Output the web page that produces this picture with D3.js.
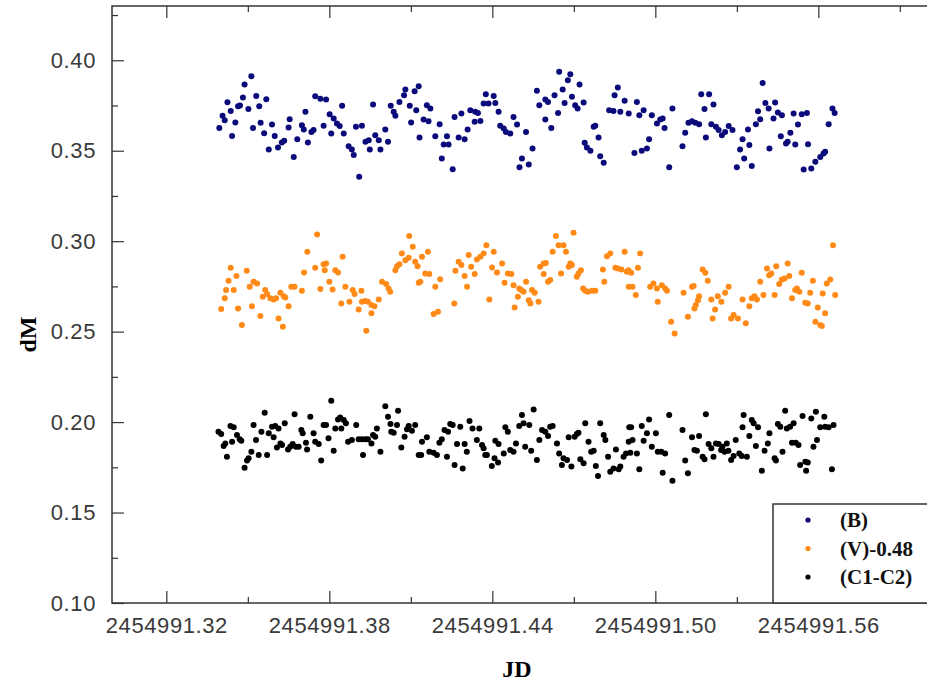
<!DOCTYPE html>
<html>
<head>
<meta charset="utf-8">
<script src="https://cdn.jsdelivr.net/npm/d3@7"></script>
<style>
    body { margin: 0; background: #fff; }
    .tick text { font-family: "Liberation Sans", Arial, sans-serif; font-size: 22px; fill: #3a3a3a; letter-spacing: 0.6px; }
    .tick line { stroke: #333; }
</style>
</head>
<body>
<div id="graph"></div>
<script>
const JD0 = 2454991;

// (B)
const bJD = [.3395,.3407,.3415,.3425,.3437,.3442,.3454,.3464,.3471,.3482,.3488,.3502,.3513,.3519,.3531,.3542,.3547,.3560,.3568,.3577,.3589,.3599,.3611,.3625,.3634,.3650,.3654,.3669,.3682,.3699,.3706,.3712,.3721,.3734,.3742,.3748,.3767,.3788,.3779,.3801,.3816,.3828,.3838,.3807,.3847,.3853,.3871,.3883,.3890,.3898,.3920,.3910,.3933,.3945,.3949,.3961,.3969,.3982,.3988,.4006,.4016,.4026,.4037,.4043,.4058,.4075,.4080,.4096,.4114,.4129,.4120,.4101,.4132,
    .4159,.4172,.4147,.4165,.4206,.4190,.4233,.4221,.4239,.4214,.4254,.4261,.4286,.4276,.4298,.4309,.4319,.4337,.4347,.4335,.4356,.4376,.4405,.4368,.4386,.4411,.4423,.4429,.4442,.4450,.4466,.4478,.4491,.4524,.4509,.4500,.4534,.4548,.4564,.4573,.4595,.4605,.4595,.4617,.4629,.4642,.4646,.4659,.4666,.4678,.4687,.4693,.4705,.4714,.4721,.4736,.4740,.4748,.4761,.4773,.4779,.4791,.4797,.4810,.4830,.4846,.4862,.4850,.4871,.4887,.4902,
    .4932,.4941,.4957,.4923,.4950,.4969,.4977,.4987,.5006,.5018,.5027,.5034,.5051,.5063,.5100,.5110,.5122,.5135,.5147,.5161,.5169,.5198,.5181,.5214,.5186,.5206,.5223,.5233,.5245,.5257,.5270,.5284,.5300,.5312,.5321,.5327,.5346,.5355,.5341,.5370,.5378,.5386,.5395,.5405,.5417,.5441,.5435,.5451,.5466,.5462,.5481,.5497,.5487,.5515,.5509,.5525,.5539,.5558,.5562,.5546,.5574,.5589,.5607,.5619,.5625,.5638,.5652,.5660,.5420];
const bDM = [.3626,.3693,.3669,.3768,.3720,.3582,.3656,.3746,.3750,.3794,.3866,.3730,.3912,.3626,.3803,.3746,.3654,.3597,.3785,.3507,.3645,.3582,.3518,.3546,.3555,.3628,.3674,.3466,.3564,.3641,.3617,.3715,.3546,.3604,.3614,.3801,.3788,.3783,.3638,.3702,.3678,.3650,.3636,.3595,.3748,.3595,.3525,.3507,.3476,.3632,.3638,.3356,.3549,.3558,.3507,.3755,.3586,.3558,.3507,.3617,.3549,.3748,.3715,.3693,.3770,.3807,.3838,.3748,.3829,.3856,.3724,.3656,.3573,
    .3752,.3733,.3672,.3663,.3647,.3580,.3580,.3534,.3534,.3457,.3398,.3687,.3706,.3573,.3564,.3617,.3724,.3715,.3709,.3660,.3665,.3812,.3803,.3761,.3761,.3764,.3715,.3638,.3623,.3604,.3595,.3687,.3645,.3604,.3457,.3408,.3424,.3512,.3831,.3752,.3783,.3770,.3672,.3626,.3807,.3709,.3936,.3838,.3764,.3890,.3923,.3798,.3752,.3733,.3866,.3766,.3544,.3518,.3500,.3632,.3638,.3573,.3470,.3433,.3724,.3720,.3849,.3807,.3715,.3776,.3706,
    .3770,.3696,.3724,.3488,.3500,.3512,.3564,.3696,.3650,.3672,.3678,.3626,.3408,.3733,.3525,.3599,.3654,.3663,.3654,.3647,.3812,.3812,.3730,.3755,.3573,.3647,.3632,.3614,.3586,.3604,.3636,.3614,.3408,.3507,.3564,.3457,.3531,.3415,.3617,.3647,.3718,.3674,.3875,.3764,.3733,.3766,.3678,.3711,.3696,.3580,.3540,.3599,.3549,.3534,.3706,.3645,.3702,.3709,.3536,.3396,.3402,.3439,.3466,.3485,.3494,.3647,.3733,.3709,.3512];

// (V)-0.48
const vJD = [.3402,.3415,.3420,.3429,.3437,.3448,.3458,.3464,.3478,.3496,.3507,.3515,.3521,.3534,.3546,.3555,.3564,.3571,.3583,.3595,.3604,.3613,.3620,.3632,.3638,.3629,.3650,.3660,.3672,.3699,.3707,.3719,.3748,.3755,.3767,.3779,.3788,.3783,.3800,.3812,.3822,.3832,.3849,.3844,.3859,.3874,.3886,.3893,.3908,.3918,.3920,.3932,.3942,.3955,.3955,.3966,.3936,.3982,.3994,.4009,.4018,.4024,.4043,.4049,.4058,.4067,.4080,.4092,.4094,.4107,.4116,.4129,.4125,
    .4141,.4163,.4153,.4168,.4135,.4190,.4208,.4184,.4200,.4260,.4264,.4276,.4286,.4298,.4307,.4313,.4322,.4335,.4343,.4356,.4368,.4378,.4389,.4405,.4399,.4417,.4436,.4445,.4457,.4470,.4478,.4482,.4494,.4499,.4506,.4515,.4524,.4534,.4540,.4546,.4556,.4570,.4576,.4589,.4597,.4589,.4605,.4613,.4622,.4634,.4644,.4662,.4671,.4653,.4681,.4687,.4693,.4699,.4711,.4717,.4726,.4734,.4742,.4752,.4767,.4779,.4807,.4812,.4822,.4834,.4853,.4862,.4875,.4887,.4895,.4902,
    .4944,.4901,.4911,.4936,.4916,.4928,.4981,.4993,.5006,.5024,.5036,.5043,.5009,.5058,.5071,.5104,.5120,.5135,.5141,.5149,.5157,.5161,.5144,.5174,.5184,.5193,.5206,.5211,.5220,.5230,.5243,.5257,.5270,.5279,.5288,.5304,.5333,.5321,.5346,.5355,.5365,.5374,.5386,.5398,.5411,.5419,.5427,.5445,.5439,.5456,.5466,.5476,.5487,.5493,.5503,.5515,.5521,.5530,.5539,.5552,.5561,.5570,.5580,.5589,.5598,.5607,.5613,.5625,.5616,.5631,.5644,.5662,.5654];
const vDM = [.2625,.2684,.2730,.2781,.2853,.2730,.2807,.2628,.2536,.2836,.2748,.2641,.2776,.2766,.2586,.2693,.2730,.2708,.2684,.2678,.2684,.2573,.2715,.2696,.2689,.2527,.2641,.2748,.2748,.2726,.2827,.2941,.2853,.3037,.2735,.2873,.2877,.2840,.2776,.2733,.2840,.2827,.2914,.2656,.2748,.2665,.2730,.2708,.2623,.2726,.2665,.2669,.2665,.2647,.2601,.2641,.2505,.2678,.2776,.2763,.2739,.2720,.2840,.2862,.2873,.2932,.2895,.2908,.3028,.2969,.2886,.2770,.2862,
    .2914,.2941,.2822,.2818,.2776,.2748,.2790,.2597,.2610,.2656,.2836,.2886,.2868,.2807,.2748,.2923,.2858,.2818,.2899,.2914,.2932,.2978,.2678,.2941,.2855,.2827,.2877,.2770,.2822,.2818,.2757,.2634,.2693,.2739,.2730,.2720,.2776,.2674,.2656,.2730,.2715,.2665,.2858,.2877,.2880,.2818,.2776,.2785,.2941,.3028,.2978,.2978,.2941,.2822,.2858,.2877,.2868,.3046,.2803,.2822,.2840,.2739,.2726,.2720,.2726,.2726,.2844,.2776,.2917,.2932,.2853,.2849,.2844,.2941,.2831,.2748,
    .2932,.2840,.2825,.2853,.2748,.2702,.2748,.2766,.2739,.2757,.2739,.2726,.2665,.2555,.2490,.2715,.2582,.2748,.2752,.2647,.2674,.2696,.2628,.2844,.2825,.2781,.2678,.2573,.2623,.2696,.2665,.2715,.2748,.2573,.2592,.2573,.2546,.2678,.2641,.2684,.2696,.2678,.2776,.2702,.2849,.2812,.2822,.2862,.2702,.2763,.2788,.2794,.2877,.2807,.2684,.2730,.2739,.2720,.2825,.2660,.2656,.2715,.2781,.2555,.2634,.2536,.2531,.2601,.2711,.2766,.2788,.2702,.2978];

// (C1-C2)
const cJD = [.3392,.3402,.3411,.3423,.3417,.3436,.3448,.3442,.3460,.3470,.3476,.3488,.3497,.3503,.3513,.3521,.3530,.3540,.3550,.3562,.3571,.3577,.3589,.3595,.3601,.3607,.3613,.3620,.3636,.3626,.3648,.3656,.3665,.3672,.3677,.3687,.3697,.3702,.3714,.3718,.3730,.3742,.3748,.3761,.3770,.3779,.3788,.3797,.3807,.3816,.3822,.3832,.3840,.3844,.3853,.3861,.3869,.3883,.3899,.3908,.3920,.3924,.3933,.3942,.3955,.3961,.3969,.3975,.3988,.4006,.4016,.4025,.4028,.4037,.4049,.4053,.4065,.4077,.4086,.4092,.4104,.4116,.4129,
    .4141,.4159,.4138,.4168,.4184,.4196,.4205,.4214,.4224,.4237,.4233,.4245,.4254,.4261,.4270,.4282,.4291,.4298,.4306,.4316,.4327,.4343,.4352,.4362,.4368,.4374,.4380,.4398,.4408,.4411,.4421,.4423,.4442,.4448,.4457,.4466,.4478,.4487,.4499,.4509,.4515,.4521,.4536,.4543,.4552,.4564,.4573,.4583,.4595,.4605,.4613,.4622,.4638,.4646,.4656,.4662,.4675,.4681,.4691,.4703,.4711,.4717,.4724,.4736,.4742,.4754,.4764,.4773,.4781,.4789,.4797,.4810,.4816,.4826,.4834,.4846,.4855,.4865,.4871,.4883,.4892,.4902,.4904,
    .4911,.4916,.4908,.4932,.4941,.4950,.4957,.4969,.4977,.4987,.5002,.5009,.5022,.5027,.5036,.5051,.5063,.5100,.5110,.5120,.5135,.5144,.5153,.5161,.5174,.5181,.5186,.5196,.5206,.5214,.5223,.5233,.5242,.5247,.5255,.5263,.5269,.5279,.5288,.5296,.5309,.5318,.5325,.5321,.5337,.5346,.5355,.5362,.5378,.5370,.5392,.5402,.5414,.5420,.5439,.5444,.5451,.5460,.5468,.5478,.5484,.5496,.5503,.5509,.5517,.5527,.5533,.5542,.5552,.5561,.5555,.5574,.5582,.5591,.5595,.5607,.5622,.5625,.5638,.5650,.5656];
const cDM = [.1947,.1934,.1868,.1809,.1882,.1978,.1971,.1892,.1928,.1905,.1897,.1748,.1787,.1800,.1836,.1984,.1901,.1818,.1947,.2052,.1818,.1938,.1974,.1916,.1978,.1860,.1965,.1882,.1993,.1873,.1849,.1864,.1879,.2044,.1864,.1864,.1956,.1938,.1886,.1849,.2030,.1938,.1892,.1879,.1787,.1984,.1984,.1910,.2118,.1842,.1965,.2015,.2026,.1965,.2011,.1993,.1892,.1901,.1984,.1905,.1905,.1818,.1905,.1905,.1882,.1928,.1919,.1965,.1836,.2088,.2030,.1989,.1947,.1941,.1984,.2063,.1860,.1919,.1960,.1978,.1952,.1984,.1818,
    .1892,.1916,.1818,.1836,.1831,.1818,.1886,.1905,.1956,.1947,.1809,.1989,.1984,.1763,.1879,.1974,.1744,.1879,.1836,.2006,.1965,.1901,.1965,.1873,.1855,.1818,.1818,.1757,.1800,.1897,.1776,.1879,.1827,.1971,.1947,.1846,.1836,.1882,.1978,.2039,.1993,.1864,.1984,.1842,.2070,.1790,.1901,.1956,.1947,.1923,.1974,.1978,.1882,.1827,.1763,.1800,.1790,.1916,.1754,.1919,.1934,.1941,.1794,.1772,.1993,.1892,.1836,.1842,.1757,.1702,.1993,.1928,.1901,.1809,.1726,.1744,.1849,.1739,.1754,.1809,.1827,.1892,.1971,
    .1971,.1901,.1831,.1827,.1739,.1978,.1897,.1938,.2015,.1864,.1938,.1836,.1836,.1720,.1827,.2039,.1676,.1956,.1787,.1717,.1916,.1846,.1842,.1923,.1809,.1794,.2044,.1879,.1855,.1809,.1882,.1879,.1846,.1864,.1836,.1882,.1842,.1790,.1813,.1901,.1827,.1813,.2039,.1971,.1809,.1923,.2011,.1993,.1971,.1868,.1731,.1842,.1882,.1938,.1800,.1787,.1989,.1974,.1836,.2063,.1965,.1974,.1886,.1993,.1886,.1873,.1763,.2033,.1781,.1776,.1731,.2020,.1864,.2057,.1901,.1971,.2030,.1974,.1971,.1739,.1984];

const seriesNames = ["(B)", "(V)-0.48", "(C1-C2)"];
const seriesColors = ["#0a0a7a", "#ff8a17", "#000000"];
const xTicks = [.32, .38, .44, .50, .56];
const xMinor = [.35, .41, .47, .53, .59];
const yTicks = [.10, .15, .20, .25, .30, .35, .40];
const yMinor = [.125, .175, .225, .275, .325, .375, .425];

const width = 927, height = 691;
const plotLeft = 112, plotTop = 6, plotBottom = 603, plotRight = 927;

let svg = d3.select("#graph")
    .append("svg")
    .attr("width", width)
    .attr("height", height);

let x = d3.scaleLinear()
    .domain([JD0 + 0.30, JD0 + 0.60])
    .range([plotLeft, plotRight]);

let y = d3.scaleLinear()
    .domain([0.10, 0.43])
    .range([plotBottom, plotTop]);

// frame
svg.append("path")
    .attr("d", `M${plotRight},${plotTop}H${plotLeft}V${plotBottom}H${plotRight}`)
    .attr("fill", "none")
    .attr("stroke", "#333")
    .attr("stroke-width", 1.5);

// y axis, ticks inward
svg.append("g")
    .attr("transform", `translate(${plotLeft},0)`)
    .call(d3.axisLeft(y).tickValues(yTicks).tickSize(-12).tickPadding(16).tickFormat(d3.format(".2f")))
    .call(g => g.select(".domain").remove());
svg.append("g")
    .attr("transform", `translate(${plotLeft},0)`)
    .call(d3.axisLeft(y).tickValues(yMinor).tickSize(-6).tickFormat(""))
    .call(g => g.select(".domain").remove());

// x axis
svg.append("g")
    .attr("transform", `translate(0,${plotBottom})`)
    .call(d3.axisBottom(x).tickValues(xTicks.map(d => JD0 + d)).tickSize(-12).tickPadding(14).tickFormat(d3.format(".2f")))
    .call(g => g.select(".domain").remove());
svg.append("g")
    .attr("transform", `translate(0,${plotBottom})`)
    .call(d3.axisBottom(x).tickValues(xMinor.map(d => JD0 + d)).tickSize(-6).tickFormat(""))
    .call(g => g.select(".domain").remove());

// mirrored top ticks
svg.append("g")
    .attr("transform", `translate(0,${plotTop})`)
    .call(d3.axisTop(x).tickValues(xTicks.map(d => JD0 + d)).tickSize(-12).tickFormat(""))
    .call(g => g.select(".domain").remove());
svg.append("g")
    .attr("transform", `translate(0,${plotTop})`)
    .call(d3.axisTop(x).tickValues(xMinor.map(d => JD0 + d)).tickSize(-6).tickFormat(""))
    .call(g => g.select(".domain").remove());

svg.selectAll(".tick line").attr("stroke-width", 1.2);

// points
let series = [d3.zip(bJD, bDM), d3.zip(vJD, vDM), d3.zip(cJD, cDM)];
series.forEach(function(data, i) {
    svg.append("g")
        .selectAll("circle")
        .data(data)
        .enter()
        .append("circle")
        .attr("cx", function(d) { return x(JD0 + d[0]); })
        .attr("cy", function(d) { return y(d[1]); })
        .attr("r", 3)
        .style("fill", seriesColors[i]);
});

// axis titles
svg.append("text")
    .attr("transform", `translate(36, ${(plotTop + plotBottom) / 2 + 30})rotate(-90)`)
    .style("text-anchor", "middle")
    .style("font-family", "Liberation Serif, Times New Roman, serif")
    .style("font-weight", "bold")
    .style("font-size", "24px")
    .text("dM");

svg.append("text")
    .attr("x", 517)
    .attr("y", 677)
    .style("text-anchor", "middle")
    .style("font-family", "Liberation Serif, Times New Roman, serif")
    .style("font-weight", "bold")
    .style("font-size", "24px")
    .text("JD");

// legend
let legend = svg.append("g");
legend.append("rect")
    .attr("x", 773)
    .attr("y", 504)
    .attr("width", 170)
    .attr("height", plotBottom - 504)
    .attr("fill", "#fff")
    .attr("stroke", "#333")
    .attr("stroke-width", 1.5);

seriesNames.forEach(function(name, i) {
    let ly = 520 + i * 28.5;
    legend.append("circle")
        .attr("cx", 808)
        .attr("cy", ly)
        .attr("r", 2.6)
        .style("fill", seriesColors[i]);
    legend.append("text")
        .attr("x", 840)
        .attr("y", ly + 7)
        .style("font-family", "Liberation Serif, Times New Roman, serif")
        .style("font-weight", "bold")
        .style("font-size", "21px")
        .style("fill", "#111")
        .text(name);
});
</script>
</body>
</html>
